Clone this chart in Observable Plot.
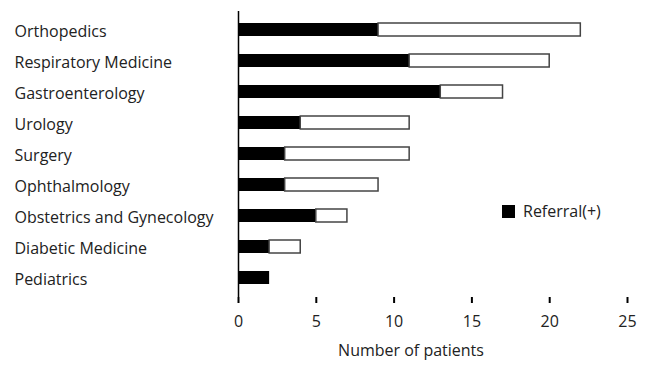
<!DOCTYPE html>
<html>
<head>
<meta charset="utf-8">
<script src="https://cdn.jsdelivr.net/npm/d3@7"></script>
<script src="https://cdn.jsdelivr.net/npm/@observablehq/plot@0.6"></script>
<style>
  html, body { margin: 0; padding: 0; background: #fff; }
  #wrap { position: relative; width: 652px; height: 366px; overflow: hidden; }
  #legend { position: absolute; left: 502px; top: 200px; font: 16px "Open Sans", sans-serif; color: #222; display: flex; align-items: center; }
  #legend .sw { width: 13px; height: 13px; background: #000; margin-right: 8px; }
</style>
</head>
<body>
<div id="wrap"></div>
<script>
const departments = ["Orthopedics", "Respiratory Medicine", "Gastroenterology", "Urology", "Surgery", "Ophthalmology", "Obstetrics and Gynecology", "Diabetic Medicine", "Pediatrics"];
const referralPos = [9, 11, 13, 4, 3, 3, 5, 2, 2];
const referralNeg = [13, 9, 4, 7, 8, 6, 2, 2, 0];
const xTicks = [0, 5, 10, 15, 20, 25];
const legendLabel = "Referral(+)";
const xTitle = "Number of patients";

const data = departments.map((d, i) => ({dept: d, pos: referralPos[i], neg: referralNeg[i], total: referralPos[i] + referralNeg[i]}));

const chart = Plot.plot({
  width: 652,
  height: 366,
  marginLeft: 238,
  marginRight: 25,
  marginTop: 11,
  marginBottom: 69,
  style: {fontFamily: "Open Sans, sans-serif", fontSize: "16px", color: "#222", background: "#fff"},
  x: {domain: [0, 25], ticks: xTicks},
  y: {domain: departments, paddingInner: 0.58, paddingOuter: 0.29},
  marks: [
    Plot.barX(data, {y: "dept", x1: 0, x2: "pos", fill: "#000"}),
    Plot.barX(data.filter(d => d.neg > 0), {y: "dept", x1: "pos", x2: "total", fill: "#fff", stroke: "#444", strokeWidth: 1.5}),
    Plot.ruleX([0], {stroke: "#000", strokeWidth: 1.5}),
    Plot.ruleY([0], {frameAnchor: "bottom", stroke: "#000", strokeWidth: 2}),
    Plot.axisX({ticks: xTicks, tickSize: 6, tickPadding: 12, label: null, stroke: "#000", strokeWidth: 2, fontSize: 16}),
    Plot.axisY({tickSize: 0, tickPadding: 0, textAnchor: "start", dx: -224, dy: 2, label: null, fontSize: 16}),
    Plot.text([xTitle], {frameAnchor: "bottom", dy: 58, dx: -22, fontSize: 16, fill: "#222"})
  ]
});
const wrap = document.getElementById("wrap");
wrap.appendChild(chart);
const lg = document.createElement("div");
lg.id = "legend";
lg.innerHTML = `<div class="sw"></div><span>${legendLabel}</span>`;
wrap.appendChild(lg);
</script>
</body>
</html>
